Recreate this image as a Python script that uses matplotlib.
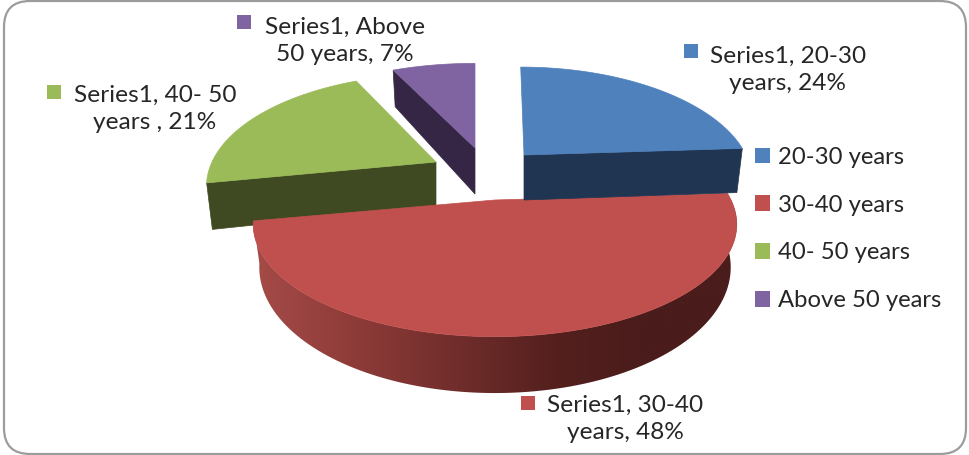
import numpy as np
import matplotlib
matplotlib.use("Agg")
import matplotlib.pyplot as plt
from matplotlib.colors import LinearSegmentedColormap
from matplotlib.patches import FancyBboxPatch, Patch, Polygon, Rectangle

categories = ["20-30 years", "30-40 years", "40- 50 years", "Above 50 years"]
shares = [24, 48, 21, 7]
point_labels = ["Series1, 20-30\nyears, 24%", "Series1, 30-40\nyears, 48%",
                "Series1, 40- 50\nyears , 21%", "Series1, Above\n50 years, 7%"]

top_colors = ["#4F81BD", "#C0504D", "#9BBB59", "#8064A2"]
dark_colors = ["#1F3552", "#4A1C1B", "#3F4A22", "#342644"]

# Положение каждого сектора на картинке (пиксели)
apex_x = [524, 495, 436, 475]
apex_y = [155, 200, 162, 148]
scale_x = [222, 236, 224, 230]
scale_y = [107, 107, 107, 103]
lean = [-4, 0, 0, 0]
depth = [45, 40, 44, 46]
draw_order = [3, 2, 1, 0]
# Подписи: квадрат слева от первой строки, центр текста
label_xy = [(788, 70), (625, 419), (155, 109), (345, 41)]
marker_xy = [(691, 51), (528, 403), (54, 92), (244, 22)]

K = 0.217  # сила перспективы
TEXT = "#262626"
FONT = "Lato"
FS_LABEL = 17.6
FS_LEGEND = 17.2


def project(theta, i, bottom=False):
    x_unit, y_unit = np.sin(theta), np.cos(theta)
    w = 1 + K * y_unit
    if bottom:
        sx = apex_x[i] + (0.975 * scale_x[i] * x_unit + lean[i] * y_unit) / w
        sy = apex_y[i] + depth[i] - 1.12 * scale_y[i] * y_unit / w
    else:
        sx = apex_x[i] + (scale_x[i] * x_unit + lean[i] * y_unit) / w
        sy = apex_y[i] - scale_y[i] * y_unit / w
    return np.column_stack([sx, sy])


fig = plt.figure(figsize=(9.69, 4.55), dpi=100)
ax = fig.add_axes([0, 0, 1, 1])
ax.set_xlim(0, 969)
ax.set_ylim(455, 0)
ax.axis("off")

ax.add_patch(FancyBboxPatch((4, 1), 962, 453, boxstyle="round,pad=0,rounding_size=26",
                            fc="white", ec="#9C9C9C", lw=1.6, zorder=0))

edges = np.radians(np.cumsum([0] + shares) * 3.6)
side_cmap = LinearSegmentedColormap.from_list(
    "side", [(0, "#A54B48"), (0.2, "#8F3C39"), (0.42, "#702D2B"),
             (0.62, "#54201E"), (0.8, "#4A1C1B"), (1, "#4A1C1B")])

for z, i in enumerate(draw_order):
    t1, t2 = edges[i], edges[i + 1]
    arc = np.linspace(t1, t2, 120)
    top = project(arc, i)
    low = project(arc, i, bottom=True)
    apex = np.array([[apex_x[i], apex_y[i]]])
    apex_low = np.array([[apex_x[i], apex_y[i] + depth[i]]])
    zz = 2 + z * 2
    if i == 1:
        # Боковая стенка большого сектора с градиентом
        wall = Polygon(np.vstack([top, low[::-1]]), closed=True, fc="none", ec="none",
                       transform=ax.transData)
        ax.add_patch(wall)
        im = ax.imshow(np.linspace(0, 1, 256).reshape(1, -1), cmap=side_cmap, aspect="auto",
                       extent=(253, 740, 400, 190), zorder=zz)
        im.set_clip_path(wall)
    else:
        # Срез сектора, который виден спереди
        end = t2 if i == 0 else t1
        a = project(np.array([end]), i)
        b = project(np.array([end]), i, bottom=True)
        ax.add_patch(Polygon(np.vstack([apex, a, b, apex_low]), closed=True,
                             fc=dark_colors[i], ec=dark_colors[i], lw=0.5, zorder=zz))
    ax.add_patch(Polygon(np.vstack([apex, top]), closed=True, fc=top_colors[i],
                         ec=top_colors[i], lw=0.5, zorder=zz + 1))

ax.set_xlim(0, 969)
ax.set_ylim(455, 0)

for txt, (lx, ly), (mx, my), col in zip(point_labels, label_xy, marker_xy, top_colors):
    ax.text(lx, ly, txt, ha="center", va="center", fontsize=FS_LABEL, family=FONT, color=TEXT,
            linespacing=1.36, zorder=20)
    ax.add_patch(Rectangle((mx - 7, my - 7), 14, 14, fc=col, ec="none", zorder=20))

handles = [Patch(fc=c, ec="none", label=n) for c, n in zip(top_colors, categories)]
ax.legend(handles=handles, loc="center left", bbox_to_anchor=(748, 229),
          bbox_transform=ax.transData, frameon=False,
          prop={"family": FONT, "size": FS_LEGEND}, labelcolor=TEXT,
          handlelength=0.63, handleheight=0.63, handletextpad=0.33,
          labelspacing=1.12, borderpad=0, borderaxespad=0.3)

fig.savefig("out.png", dpi=100)
